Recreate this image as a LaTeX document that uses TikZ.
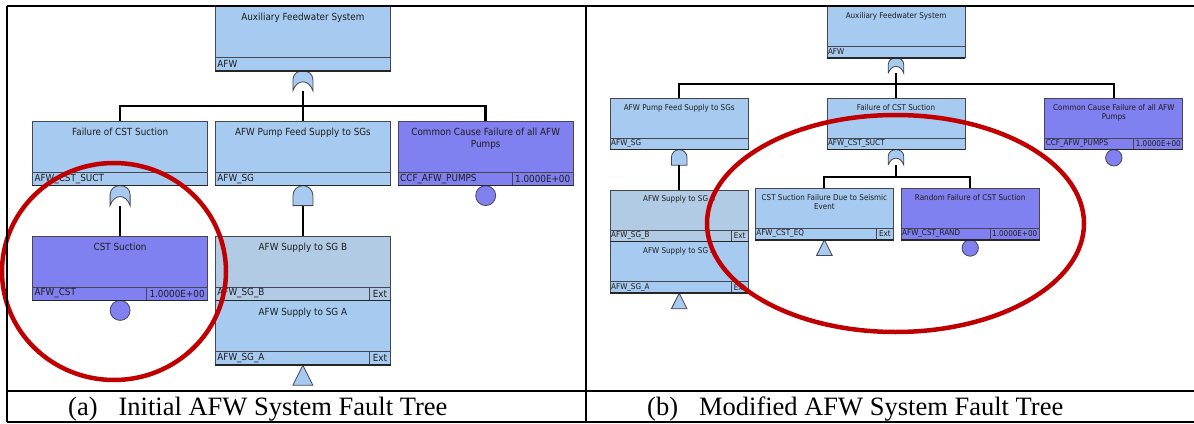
\documentclass[tikz,border=0pt]{standalone}
\usepackage{fontspec}
\setmainfont{Liberation Serif}
\newfontfamily\ftsans[FakeStretch=0.9]{DejaVu Sans}
\usetikzlibrary{positioning,calc}
\definecolor{ftblue}{RGB}{166,202,240}
\definecolor{ftgray}{RGB}{178,203,229}
\definecolor{ftpurple}{RGB}{128,128,240}
\definecolor{ftedge}{RGB}{70,70,80}
\definecolor{ftink}{RGB}{30,30,30}
\definecolor{ftred}{RGB}{192,0,0}
\newcommand{\fta}{\ftsans\fontsize{9.8}{12}\selectfont}
\newcommand{\ftb}{\ftsans\fontsize{8}{9}\selectfont}
\tikzset{
  gateline/.style={draw=ftedge, line width=0.8pt, fill=ftblue},
  orgate/.pic={\draw[gateline] (-10,20) -- (-10,9) .. controls (-10,3) and (-5,0) .. (0,0) .. controls (5,0) and (10,3) .. (10,9) -- (10,20) .. controls (6,8) and (-6,8) .. cycle;},
  andgate/.pic={\draw[gateline] (-10,20) -- (-10,10) arc[start angle=180, end angle=360, radius=10] -- (10,20) -- cycle;},
  basicev/.pic={\draw[gateline, fill=ftpurple] (0,10) circle[radius=10];},
  xfer/.pic={\draw[gateline] (0,0) -- (10,20) -- (-10,20) -- cycle;}
}

\begin{document}
\begin{tikzpicture}[
  x=1pt, y=-1pt,
  evbox/.style={rectangle, draw=ftedge, line width=0.8pt, fill=ftblue, inner sep=0pt},
  boxa/.style={evbox, minimum width=175pt, minimum height=64pt},
  boxb/.style={evbox, minimum width=138pt, minimum height=51pt},
  tta/.style={font=\fta, align=center, inner sep=0pt, text=ftink},
  ttb/.style={font=\ftb, align=center, inner sep=0pt, text=ftink},
  bara/.style={evbox, anchor=south west, minimum width=175pt, minimum height=13pt, text width=171pt, inner xsep=2pt, align=left, font=\fta, text=ftink},
  vala/.style={evbox, anchor=south east, minimum width=61pt, minimum height=13pt, font=\fta, text=ftink},
  exta/.style={vala, minimum width=21pt},
  barb/.style={evbox, anchor=south west, minimum width=138pt, minimum height=11pt, text width=136pt, inner xsep=1pt, align=left, font=\ftb, text=ftink},
  valb/.style={evbox, anchor=south east, minimum width=49pt, minimum height=11pt, font=\ftb, text=ftink},
  extb/.style={valb, minimum width=17pt},
  linka/.style={draw=black, line width=2.5pt},
  linkb/.style={draw=black, line width=2pt},
  edgeline/.style={draw=black!85, line width=1.6pt},
  ring/.style={draw=ftred, line width=4.5pt},
  tbl/.style={draw=black, line width=1.5pt},
  captext/.style={font=\fontsize{26.5}{30}\selectfont, inner sep=0pt, anchor=base west}
]
\useasboundingbox (0,0) rectangle (1194,423);

% (a) Initial tree - boxes
\node[boxa, anchor=north west] (top) at (215,6) {};
\node[boxa, below=50pt of top] (sg) {};
\node[boxa, left=7pt of sg] (suct) {};
\node[boxa, fill=ftpurple, right=7pt of sg] (ccf) {};
\node[boxa, fill=ftpurple, below=50pt of suct] (cst) {};
\node[boxa, fill=ftgray, below=50pt of sg] (sgb) {};
\node[boxa, below=0pt of sgb] (sga) {};

% (a) titles
\node[tta, below=7pt of top.north] (topT) {Auxiliary Feedwater System};
\node[tta, below=7pt of suct.north] (suctT) {Failure of CST Suction};
\node[tta, below=7pt of sg.north] (sgT) {AFW Pump Feed Supply to SGs};
\node[tta, below=7pt of ccf.north] (ccfT) {Common Cause Failure of all AFW\\Pumps};
\node[tta, below=7pt of cst.north] (cstT) {CST Suction};
\node[tta, below=7pt of sgb.north] (sgbT) {AFW Supply to SG B};
\node[tta, below=7pt of sga.north] (sgaT) {AFW Supply to SG A};

% (a) id bars
\node[bara] (topB) at (top.south west) {AFW};
\node[bara] (suctB) at (suct.south west) {AFW\_CST\_SUCT};
\node[bara] (sgB) at (sg.south west) {AFW\_SG};
\node[bara, fill=ftpurple] (ccfB) at (ccf.south west) {CCF\_AFW\_PUMPS};
\node[vala, fill=ftpurple] (ccfV) at (ccf.south east) {1.0000E+00};
\node[bara, fill=ftpurple] (cstB) at (cst.south west) {AFW\_CST};
\node[vala, fill=ftpurple] (cstV) at (cst.south east) {1.0000E+00};
\node[bara, fill=ftgray] (sgbB) at (sgb.south west) {AFW\_SG\_B};
\node[exta, fill=ftgray] (sgbV) at (sgb.south east) {Ext};
\node[bara] (sgaB) at (sga.south west) {AFW\_SG\_A};
\node[exta] (sgaV) at (sga.south east) {Ext};

% (a) gates and connectors
\pic at (top.south) {orgate};
\pic at (suct.south) {orgate};
\pic at (sg.south) {andgate};
\pic at (ccf.south) {basicev};
\pic at (cst.south) {basicev};
\pic at (sga.south) {xfer};
\coordinate (topG) at ($(top.south)+(0,20)$);
\coordinate (suctG) at ($(suct.south)+(0,20)$);
\coordinate (sgG) at ($(sg.south)+(0,20)$);
\coordinate (busA) at ($(topG)+(0,15)$);
\draw[linka] (topG) -- (sg.north);
\draw[linka] (suct.north) -- (suct.north |- busA) -- (ccf.north |- busA) -- (ccf.north);
\draw[linka] (suctG) -- (cst.north);
\draw[linka] (sgG) -- (sgb.north);

% (b) Modified tree - boxes
\node[boxb, anchor=north] (topR) at (896,6) {};
\node[boxb, below=40pt of topR] (suctR) {};
\node[boxb, left=78pt of suctR] (sgR) {};
\node[boxb, fill=ftpurple, right=79pt of suctR] (ccfR) {};
\node[boxb, fill=ftgray, below=40pt of sgR] (sgbR) {};
\node[boxb, below=0pt of sgbR] (sgaR) {};
\node[boxb, anchor=north west] (eqR) at (755,188) {};
\node[boxb, fill=ftpurple, right=7pt of eqR] (randR) {};

% (b) titles
\node[ttb, below=6pt of topR.north] (topRT) {Auxiliary Feedwater System};
\node[ttb, below=6pt of suctR.north] (suctRT) {Failure of CST Suction};
\node[ttb, below=6pt of sgR.north] (sgRT) {AFW Pump Feed Supply to SGs};
\node[ttb, below=6pt of ccfR.north] (ccfRT) {Common Cause Failure of all AFW\\Pumps};
\node[ttb, below=6pt of sgbR.north] (sgbRT) {AFW Supply to SG B};
\node[ttb, below=6pt of sgaR.north] (sgaRT) {AFW Supply to SG A};
\node[ttb, below=6pt of eqR.north] (eqRT) {CST Suction Failure Due to Seismic\\Event};
\node[ttb, below=6pt of randR.north] (randRT) {Random Failure of CST Suction};

% (b) id bars
\node[barb] (topRB) at (topR.south west) {AFW};
\node[barb] (suctRB) at (suctR.south west) {AFW\_CST\_SUCT};
\node[barb] (sgRB) at (sgR.south west) {AFW\_SG};
\node[barb, fill=ftpurple] (ccfRB) at (ccfR.south west) {CCF\_AFW\_PUMPS};
\node[valb, fill=ftpurple] (ccfRV) at (ccfR.south east) {1.0000E+00};
\node[barb, fill=ftgray] (sgbRB) at (sgbR.south west) {AFW\_SG\_B};
\node[extb, fill=ftgray] (sgbRV) at (sgbR.south east) {Ext};
\node[barb] (sgaRB) at (sgaR.south west) {AFW\_SG\_A};
\node[extb] (sgaRV) at (sgaR.south east) {Ext};
\node[barb] (eqRB) at (eqR.south west) {AFW\_CST\_EQ};
\node[extb] (eqRV) at (eqR.south east) {Ext};
\node[barb, fill=ftpurple] (randRB) at (randR.south west) {AFW\_CST\_RAND};
\node[valb, fill=ftpurple] (randRV) at (randR.south east) {1.0000E+00};

% (b) gates and connectors
\pic[scale=0.78] at (topR.south) {orgate};
\pic[scale=0.78] at (suctR.south) {orgate};
\pic[scale=0.78] at (sgR.south) {andgate};
\pic[scale=0.82] at (ccfR.south) {basicev};
\pic[scale=0.82] at (randR.south) {basicev};
\pic[scale=0.78] at (eqR.south) {xfer};
\pic[scale=0.78] at (sgaR.south) {xfer};
\coordinate (topRG) at ($(topR.south)+(0,15.6)$);
\coordinate (suctRG) at ($(suctR.south)+(0,15.6)$);
\coordinate (sgRG) at ($(sgR.south)+(0,15.6)$);
\coordinate (busB) at ($(topRG)+(0,11)$);
\coordinate (busC) at ($(suctRG)+(0,12)$);
\draw[linkb] (topRG) -- (suctR.north);
\draw[linkb] (sgR.north) -- (sgR.north |- busB) -- (ccfR.north |- busB) -- (ccfR.north);
\draw[linkb] (suctRG) -- (busC);
\draw[linkb] (eqR.north) -- (eqR.north |- busC) -- (randR.north |- busC) -- (randR.north);
\draw[linkb] (sgRG) -- (sgbR.north);

% dark lower edges
\foreach \n in {top,suct,sg,ccf,cst,sgb,sga,topR,suctR,sgR,ccfR,sgbR,sgaR,eqR,randR}
  \draw[edgeline] (\n.south west) -- (\n.south east);

% highlight rings
\draw[ring] (114,271.5) ellipse[x radius=112, y radius=108.5];
\draw[ring] (895.5,223.5) ellipse[x radius=188.5, y radius=108.5];

% table frame and captions
\draw[tbl] (7,6) -- (1194,6);
\draw[tbl] (7,391) -- (1194,391);
\draw[tbl] (7,422) -- (1194,422);
\draw[tbl, line width=2pt] (7,6) -- (7,422);
\draw[tbl, line width=2pt] (586,6) -- (586,422);
\node[captext] (capA) at (68,415) {(a)\hspace{21pt}Initial AFW System Fault Tree};
\node[captext] (capB) at (647,415) {(b)\hspace{21pt}Modified AFW System Fault Tree};
\end{tikzpicture}
\end{document}
